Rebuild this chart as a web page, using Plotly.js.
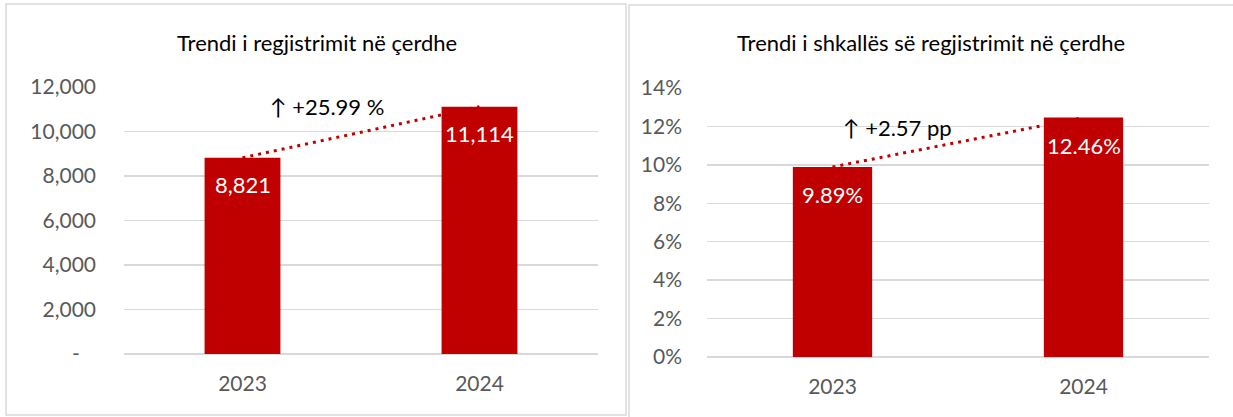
<!DOCTYPE html>
<html>
<head>
<meta charset="utf-8">
<script src="https://cdn.plot.ly/plotly-3.0.1.min.js"></script>
<style>html,body{margin:0;padding:0;background:#fff;}#chart{width:1233px;height:417px;}</style>
</head>
<body>
<div id="chart"></div>
<script>
// ---- data ----
const years = ['2023', '2024'];
const enrolment = [8821, 11114];
const enrolmentRate = [0.0989, 0.1246];
const enrolmentTicks = [0, 2000, 4000, 6000, 8000, 10000, 12000];
const enrolmentTickText = ['-\u00a0\u00a0\u00a0', '2,000', '4,000', '6,000', '8,000', '10,000', '12,000'];
const rateTicks = [0, 0.02, 0.04, 0.06, 0.08, 0.10, 0.12, 0.14];
const titleLeft = 'Trendi i regjistrimit në çerdhe';
const titleRight = 'Trendi i shkallës së regjistrimit në çerdhe';
const changeLeft = '↑ +25.99 %';
const changeRight = '↑ +2.57 pp';

const RED = '#C00000';
const W = 1233, H = 417;
const px = v => v / W;
const py = v => 1 - v / H;
const FONT = 'Lato, "Open Sans", sans-serif';

const traces = [
  {type: 'bar', x: years, y: enrolment, xaxis: 'x', yaxis: 'y', marker: {color: RED}, width: 0.32, hoverinfo: 'skip'},
  {type: 'scatter', mode: 'lines', x: years, y: enrolment, xaxis: 'x', yaxis: 'y',
   line: {color: RED, width: 3, dash: '3px,5px'}, hoverinfo: 'skip'},
  {type: 'bar', x: years, y: enrolmentRate, xaxis: 'x2', yaxis: 'y2', marker: {color: RED}, width: 0.316, hoverinfo: 'skip'},
  {type: 'scatter', mode: 'lines', x: years, y: enrolmentRate, xaxis: 'x2', yaxis: 'y2',
   line: {color: RED, width: 3, dash: '3px,5px'}, hoverinfo: 'skip'}
];

const tickFont = {family: FONT, size: 21, color: '#595959'};
const gridColor = '#d9d9d9';

const annotations = [
  {text: titleLeft, xref: 'paper', yref: 'paper', x: px(317), y: py(42), showarrow: false,
   font: {family: FONT, size: 22, color: '#000'}, xanchor: 'center', yanchor: 'middle'},
  {text: titleRight, xref: 'paper', yref: 'paper', x: px(931), y: py(42), showarrow: false,
   font: {family: FONT, size: 22, color: '#000'}, xanchor: 'center', yanchor: 'middle'},
  {text: changeLeft, xref: 'paper', yref: 'paper', x: px(327), y: py(107), showarrow: false,
   font: {family: FONT, size: 22, color: '#000'}, xanchor: 'center', yanchor: 'middle'},
  {text: changeRight, xref: 'paper', yref: 'paper', x: px(897), y: py(127), showarrow: false,
   font: {family: FONT, size: 22, color: '#000'}, xanchor: 'center', yanchor: 'middle'}
];
years.forEach((yr, i) => {
  annotations.push({text: enrolment[i].toLocaleString('en-US'), x: i, y: enrolment[i], xref: 'x', yref: 'y',
    showarrow: false, yshift: -27, font: {family: FONT, size: 22, color: '#fff'}, yanchor: 'middle'});
  annotations.push({text: (enrolmentRate[i] * 100).toFixed(2) + '%', x: i, y: enrolmentRate[i], xref: 'x2', yref: 'y2',
    showarrow: false, yshift: -28, font: {family: FONT, size: 22, color: '#fff'}, yanchor: 'middle'});
});

const xBase = {type: 'category', categoryorder: 'array', categoryarray: years, range: [-0.5, 1.5],
  tickfont: tickFont, showgrid: false, showline: false, zeroline: false, ticks: '', ticklabelstandoff: 15, fixedrange: true};

const layout = {
  width: W, height: H,
  margin: {l: 0, r: 0, t: 0, b: 0},
  paper_bgcolor: '#fff', plot_bgcolor: '#fff',
  showlegend: false,
  xaxis: Object.assign({}, xBase, {domain: [px(124), px(598)], anchor: 'y'}),
  yaxis: {domain: [py(354), py(87)], range: [0, 12000], anchor: 'x', tickvals: enrolmentTicks, ticktext: enrolmentTickText,
    tickfont: tickFont, gridcolor: gridColor, gridwidth: 1.5, zeroline: true, zerolinecolor: gridColor, zerolinewidth: 1.5,
    showline: false, ticks: '', ticklabelstandoff: 27, fixedrange: true},
  xaxis2: Object.assign({}, xBase, {domain: [px(707), px(1209)], anchor: 'y2'}),
  yaxis2: {domain: [py(357), py(88)], range: [0, 0.14], anchor: 'x2', tickvals: rateTicks, tickformat: '.0%',
    tickfont: tickFont, gridcolor: gridColor, gridwidth: 1.5, zeroline: true, zerolinecolor: gridColor, zerolinewidth: 1.5,
    showline: false, ticks: '', ticklabelstandoff: 24, fixedrange: true},
  annotations: annotations,
  shapes: [
    {type: 'rect', xref: 'paper', yref: 'paper', x0: px(6), x1: px(626), y0: py(415), y1: py(4),
     line: {color: '#d9d9d9', width: 1.5}, layer: 'below'},
    {type: 'rect', xref: 'paper', yref: 'paper', x0: px(629), x1: px(1240), y0: py(425), y1: py(5),
     line: {color: '#d9d9d9', width: 1.5}, layer: 'below'}
  ]
};

Plotly.newPlot('chart', traces, layout, {displayModeBar: false, staticPlot: true});
</script>
</body>
</html>
